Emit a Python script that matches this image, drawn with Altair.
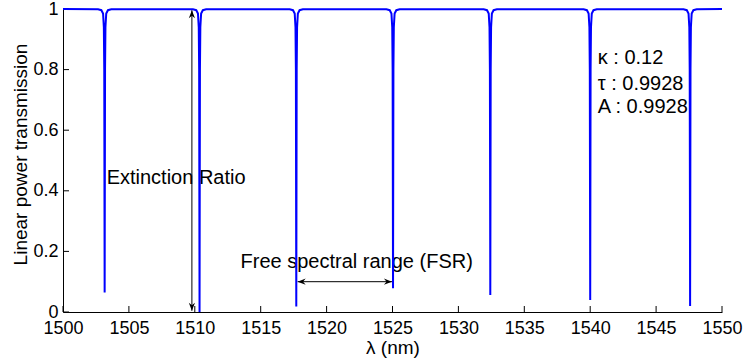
import altair as alt
import pandas as pd

# ---- data ----
dip_centers = [1503.16, 1510.36, 1517.70, 1525.04, 1532.42, 1540.00, 1547.58]
dip_minima = [0.064, 0.000, 0.018, 0.078, 0.056, 0.040, 0.020]
dip_offsets = [-0.5, -0.25, -0.12, -0.06, -0.03, 0.0, 0.03, 0.06, 0.12, 0.25, 0.5]
dip_shape = [0.999, 0.996, 0.985, 0.94, 0.80, None, 0.80, 0.94, 0.985, 0.996, 0.999]
x_ends = [1500, 1550]
y_ends = [1.0, 1.0]

x_ticks = [1500, 1505, 1510, 1515, 1520, 1525, 1530, 1535, 1540, 1545, 1550]
y_ticks = [0, 0.2, 0.4, 0.6, 0.8, 1]

er_arrow_x = [1509.78]
er_arrow_y = [0.004, 0.996]
fsr_arrow_x = [1517.80, 1524.96]
fsr_arrow_y = [0.10]

labels = ["Extinction Ratio", "Free spectral range (FSR)", "κ : 0.12", "τ : 0.9928", "A : 0.9928"]
label_x = [1503.31, 1513.47, 1540.57, 1540.57, 1540.57]
label_y = [0.442, 0.165, 0.838, 0.752, 0.677]

# ---- build tables ----
rows = [{"x": x_ends[0], "y": y_ends[0]}]
for c, m in zip(dip_centers, dip_minima):
    for o, v in zip(dip_offsets, dip_shape):
        rows.append({"x": c + o, "y": m if v is None else v})
rows.append({"x": x_ends[1], "y": y_ends[1]})
curve = pd.DataFrame(rows)

FONT = "Liberation Sans"
W, H = 659, 303

X = alt.X("x:Q", scale=alt.Scale(domain=[1500, 1550], nice=False, zero=False),
          axis=alt.Axis(values=x_ticks, format="d", title="λ (nm)", labelPadding=7,
                        titlePadding=1, labelFlush=False, labelOverlap=False))
Y = alt.Y("y:Q", scale=alt.Scale(domain=[0, 1], nice=False),
          axis=alt.Axis(values=y_ticks, format="~g", title="Linear power transmission",
                        labelPadding=5, labelFlush=False, labelOverlap=False,
                        titleX=-36.7, titleY=145, titleBaseline="alphabetic",
                        titleAlign="center", titleAngle=270))

text_df = pd.DataFrame({"x": label_x, "y": label_y, "t": labels})
texts = alt.Chart(text_df).mark_text(align="left", baseline="middle", font=FONT,
                                     fontSize=20, color="black").encode(x=X, y=Y, text="t:N")

line = alt.Chart(curve).mark_line(color="#0000ff", strokeWidth=2, interpolate="linear").encode(
    x=X, y=Y, order="x:Q")

er_df = pd.DataFrame({"x": er_arrow_x, "y": [er_arrow_y[0]], "y2": [er_arrow_y[1]]})
er_rule = alt.Chart(er_df).mark_rule(color="black", strokeWidth=1).encode(x=X, y=Y, y2="y2:Q")

fsr_df = pd.DataFrame({"x": [fsr_arrow_x[0]], "x2": [fsr_arrow_x[1]], "y": fsr_arrow_y})
fsr_rule = alt.Chart(fsr_df).mark_rule(color="black", strokeWidth=1).encode(x=X, x2="x2:Q", y=Y)

UP = "M0,0 L0.65,1.7 L0,1.15 L-0.65,1.7 Z"
DOWN = "M0,0 L0.65,-1.7 L0,-1.15 L-0.65,-1.7 Z"
LEFT = "M0,0 L1.7,-0.65 L1.15,0 L1.7,0.65 Z"
RIGHT = "M0,0 L-1.7,-0.65 L-1.15,0 L-1.7,0.65 Z"

def head(xv, yv, path):
    d = pd.DataFrame({"x": [xv], "y": [yv]})
    return alt.Chart(d).mark_point(shape=path, filled=True, color="black", size=90,
                                   opacity=1, strokeWidth=0).encode(x=X, y=Y)

heads = [
    head(er_arrow_x[0], er_arrow_y[1], UP),
    head(er_arrow_x[0], er_arrow_y[0], DOWN),
    head(fsr_arrow_x[0], fsr_arrow_y[0], LEFT),
    head(fsr_arrow_x[1], fsr_arrow_y[0], RIGHT),
]

xt = alt.Chart(pd.DataFrame({"x": x_ticks})).mark_rule(color="black", strokeWidth=1).encode(
    x=X, y=alt.value(H), y2=alt.value(H - 6))
yt = alt.Chart(pd.DataFrame({"y": y_ticks})).mark_rule(color="black", strokeWidth=1).encode(
    y=Y, x=alt.value(0), x2=alt.value(6))

chart = alt.layer(texts, er_rule, fsr_rule, *heads, xt, yt, line).properties(
    width=W, height=H,
    autosize=alt.AutoSizeParams(type="none"),
    padding={"left": 63, "top": 9, "right": 25, "bottom": 50},
    background="white",
).configure_view(stroke=None).configure_axis(
    grid=False, ticks=False, tickSize=0, domainColor="black", domainWidth=1,
    labelFont=FONT, labelFontSize=18, labelColor="black",
    titleFont=FONT, titleFontSize=19, titleColor="black", titleFontWeight="normal",
)

chart.save("out.html", embed_options={"renderer": "svg", "actions": False})
